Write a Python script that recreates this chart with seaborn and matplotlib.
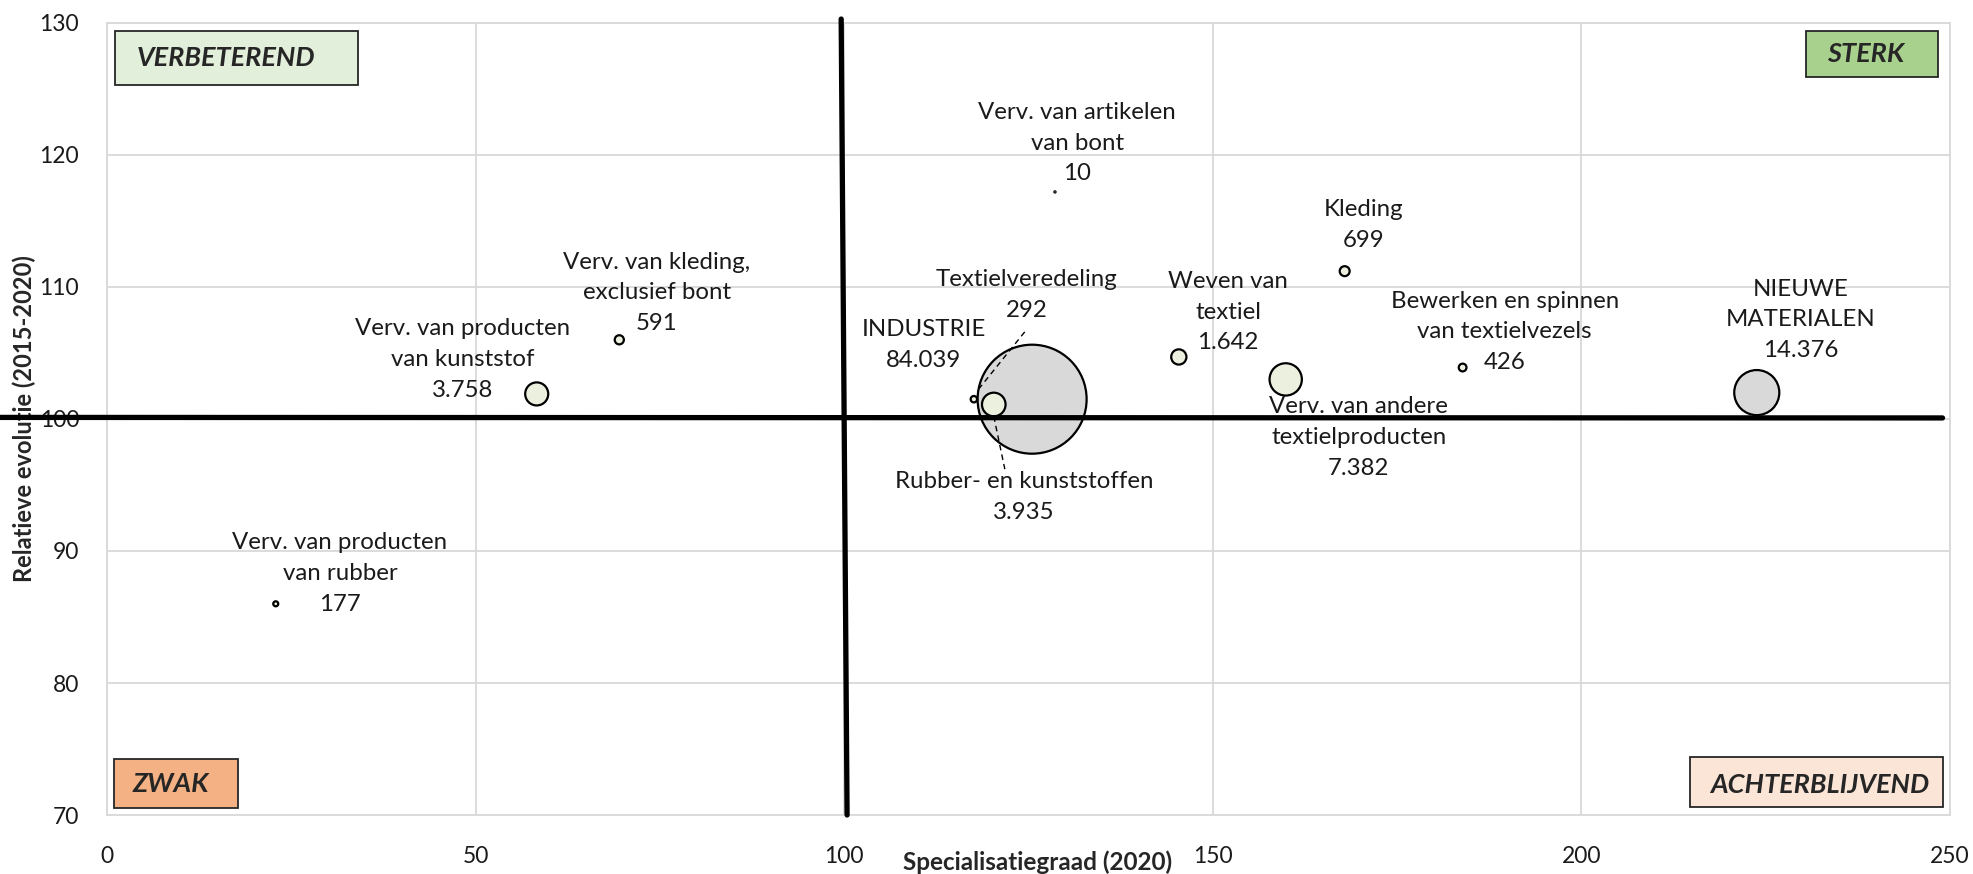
import matplotlib
matplotlib.use('Agg')
import matplotlib.pyplot as plt
from matplotlib.patches import Rectangle
import seaborn as sns
import pandas as pd

# =================================================================
# DATA
# =================================================================
sectoren = [
    'Verv. van producten\nvan rubber',
    'Verv. van producten\nvan kunststof',
    'Verv. van kleding,\nexclusief bont',
    'Verv. van artikelen\nvan bont',
    'INDUSTRIE',
    'Textielveredeling',
    'Rubber- en kunststoffen',
    'Weven van\ntextiel',
    'Verv. van andere\ntextielproducten',
    'Kleding',
    'Bewerken en spinnen\nvan textielvezels',
    'NIEUWE\nMATERIALEN',
]
specialisatie = [22.9, 58.3, 69.5, 128.6, 125.5, 117.6, 120.3, 145.4, 159.9, 167.9, 183.9, 223.8]
evolutie = [86.0, 101.9, 106.0, 117.2, 101.5, 101.5, 101.1, 104.7, 103.0, 111.2, 103.9, 102.0]
werknemers = [177, 3758, 591, 10, 84039, 292, 3935, 1642, 7382, 699, 426, 14376]
groep = ['sector', 'sector', 'sector', 'sector', 'totaal', 'sector', 'sector',
         'sector', 'sector', 'sector', 'sector', 'totaal']

x_ticks = [0, 50, 100, 150, 200, 250]
y_ticks = [70, 80, 90, 100, 110, 120, 130]

df = pd.DataFrame({'Sector': sectoren, 'Spec': specialisatie, 'Evol': evolutie,
                   'Werk': werknemers, 'Groep': groep})
# grote bellen eerst tekenen zodat de kleine erbovenop liggen
df = df.sort_values('Werk', ascending=False)

# label-posities (data-coördinaten, midden van het tekstblok)
label_pos = {
    'Verv. van producten\nvan rubber': (31.6, 88.3),
    'Verv. van producten\nvan kunststof': (48.3, 104.5),
    'Verv. van kleding,\nexclusief bont': (74.6, 109.55),
    'Verv. van artikelen\nvan bont': (131.6, 120.9),
    'INDUSTRIE': (110.8, 105.6),
    'Textielveredeling': (124.8, 109.4),
    'Rubber- en kunststoffen': (124.4, 94.1),
    'Weven van\ntextiel': (152.1, 108.1),
    'Verv. van andere\ntextielproducten': (169.8, 98.6),
    'Kleding': (170.4, 114.7),
    'Bewerken en spinnen\nvan textielvezels': (189.6, 106.6),
    'NIEUWE\nMATERIALEN': (229.7, 107.5),
}

# =================================================================
# FIGUUR
# =================================================================
sns.set_style('white')
plt.rcParams['font.family'] = ['Lato', 'DejaVu Sans']

fig = plt.figure(figsize=(19.73, 8.74), dpi=100)
ax = fig.add_axes([0.0542, 0.0675, 0.9341, 0.9062])

max_s = (109 * 0.72) ** 2  # diameter INDUSTRIE ~109 px
sns.scatterplot(
    data=df, x='Spec', y='Evol', size='Werk', hue='Groep',
    sizes=(0, max_s), size_norm=(0, max(werknemers)),
    palette={'sector': '#EBF1DE', 'totaal': '#D9D9D9'},
    edgecolor='black', linewidth=1.6, alpha=1, legend=False, ax=ax, zorder=3
)

# labels
for naam, w in zip(sectoren, werknemers):
    tekst = naam + '\n' + f'{w:,}'.replace(',', '.')
    ax.text(*label_pos[naam], tekst, ha='center', va='center', fontsize=17.3,
            linespacing=1.58, color='#1a1a1a', zorder=4)

# stippellijnen naar kleine bellen in het centrum
ax.plot([124.5, 118.3], [106.6, 102.3], color='black', lw=1, ls=(0, (4, 3)), zorder=4)
ax.plot([120.3, 121.8], [100.2, 96.2], color='black', lw=1, ls=(0, (4, 3)), zorder=4)

# kwadrantlijnen
ax.plot([-14.5, 249], [100.12, 100.08], color='black', lw=3.8, clip_on=False, zorder=5)
ax.plot([99.6, 100.4], [130.3, 70], color='black', lw=3.8, clip_on=False, zorder=5)

# assen
ax.set_xlim(0, 250)
ax.set_ylim(70, 130)
ax.set_xticks(x_ticks)
ax.set_yticks(y_ticks)
ax.grid(True, color='#D9D9D9', lw=1.3, zorder=0)
ax.set_axisbelow(True)
for sp in ax.spines.values():
    sp.set_color('#D9D9D9')
    sp.set_linewidth(1.3)
ax.tick_params(axis='both', length=0, labelsize=16.5, colors='#1a1a1a')
ax.tick_params(axis='x', pad=22)
ax.tick_params(axis='y', pad=20)
ax.set_xlabel('Specialisatiegraad (2020)', fontsize=17.5, fontweight='bold', va='center')
ax.set_ylabel('Relatieve evolutie (2015-2020)', fontsize=17, fontweight='bold', va='center')
ax.xaxis.set_label_coords(0.505, -0.06)
ax.yaxis.set_label_coords(-0.045, 0.5)

# kwadrant-vakjes
kwadranten = [
    ('VERBETEREND', (0.0043, 0.9217, 0.1319, 0.0682), '#E2EFDA', 0.0163, 0.956),
    ('STERK', (0.9219, 0.9318, 0.0716, 0.058), '#A9D18E', 0.9333, 0.961),
    ('ZWAK', (0.0038, 0.0088, 0.0673, 0.0619), '#F4B183', 0.0141, 0.039),
    ('ACHTERBLIJVEND', (0.859, 0.0101, 0.1373, 0.0631), '#FBE5D6', 0.8698, 0.038),
]
for tekst, (x0, y0, w, h), kleur, tx, ty in kwadranten:
    ax.add_patch(Rectangle((x0, y0), w, h, transform=ax.transAxes, facecolor=kleur,
                           edgecolor='#262626', lw=1.3, zorder=6, clip_on=False))
    ax.text(tx, ty, tekst, transform=ax.transAxes, ha='left', va='center',
            fontsize=19.5, fontweight='bold', fontstyle='italic', zorder=7)

plt.savefig('out.png', dpi=100)
